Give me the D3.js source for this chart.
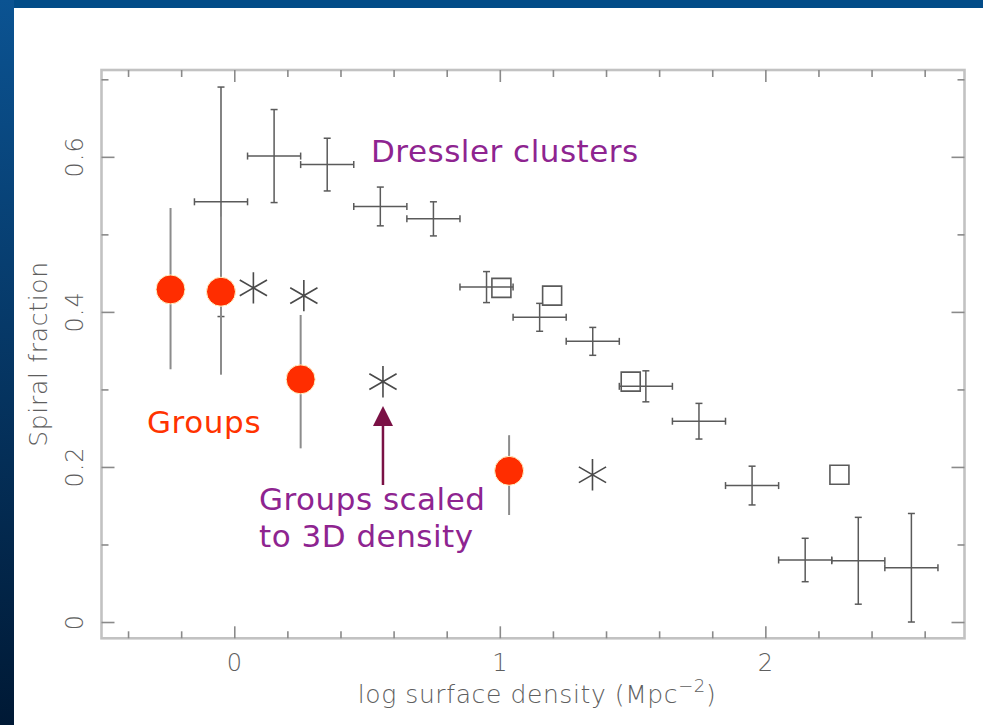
<!DOCTYPE html>
<html>
<head>
<meta charset="utf-8">
<script src="https://cdn.jsdelivr.net/npm/d3@7"></script>
<style>
  html, body { margin: 0; padding: 0; background: #fff; overflow: hidden; }
  svg { display: block; }
</style>
</head>
<body>
<svg id="chart" width="983" height="725"></svg>
<script>
// Dressler clusters: log surface density bin centres, spiral fraction and its 1-sigma error
const dresslerX   = [-0.05, 0.15, 0.35, 0.55, 0.75, 0.95, 1.15, 1.35, 1.55, 1.75, 1.95, 2.15, 2.35, 2.55];
const dresslerY   = [0.542, 0.601, 0.590, 0.536, 0.520, 0.432, 0.393, 0.362, 0.304, 0.259, 0.176, 0.080, 0.079, 0.070];
const dresslerErr = [0.148, 0.060, 0.034, 0.025, 0.022, 0.020, 0.018, 0.018, 0.020, 0.023, 0.025, 0.028, 0.056, 0.070];
const dresslerBinHalfWidth = 0.1;

// Groups (filled circles) with asymmetric errors
const groupsX       = [-0.24, -0.05, 0.25, 1.035];
const groupsY       = [0.429, 0.426, 0.313, 0.195];
const groupsErrLow  = [0.103, 0.107, 0.089, 0.057];
const groupsErrHigh = [0.105, 0.097, 0.083, 0.046];

// Groups scaled to 3D density (asterisks)
const scaledX = [0.072, 0.262, 0.56, 1.349];
const scaledY = [0.431, 0.421, 0.31, 0.19];

// Open squares
const squareX = [1.006, 1.197, 1.493, 2.279];
const squareY = [0.431, 0.421, 0.31, 0.19];

// Axis ticks
const xMajorTicks = [0, 1, 2];
const xTickLabels = ['0', '1', '2'];
const yMajorTicks = [0, 0.2, 0.4, 0.6];
const yTickLabels = ['0', '0.2', '0.4', '0.6'];
const xMinorTicks = [-0.4, -0.2, 0.2, 0.4, 0.6, 0.8, 1.2, 1.4, 1.6, 1.8, 2.2, 2.4, 2.6];
const yMinorTicks = [0.1, 0.3, 0.5, 0.7];

const svg = d3.select('#chart');
const defs = svg.append('defs');
const edge = defs.append('linearGradient').attr('id', 'edge')
  .attr('x1', 0).attr('y1', 0).attr('x2', 0).attr('y2', 1);
edge.append('stop').attr('offset', '0%').attr('stop-color', '#0b5392');
edge.append('stop').attr('offset', '100%').attr('stop-color', '#001935');

// slide background and dark blue edges
svg.append('rect').attr('width', 983).attr('height', 725).attr('fill', '#ffffff');
svg.append('rect').attr('x', 0).attr('y', 0).attr('width', 983).attr('height', 8).attr('fill', '#024c88');
svg.append('rect').attr('x', 0).attr('y', 0).attr('width', 14).attr('height', 725).attr('fill', 'url(#edge)');

const x = d3.scaleLinear().domain([-0.5, 2.75]).range([101.5, 964.5]);
const y = d3.scaleLinear().domain([-0.021, 0.712]).range([638.3, 70]);

const axisFont = "'DejaVu Sans', 'Liberation Sans', sans-serif";
const axisInk = '#5e5e5e';

// frame
svg.append('rect')
  .attr('x', x.range()[0]).attr('y', y.range()[1])
  .attr('width', x.range()[1] - x.range()[0])
  .attr('height', y.range()[0] - y.range()[1])
  .attr('fill', 'none').attr('stroke', '#c2c2c2').attr('stroke-width', 2.6);

// inward ticks on all four sides
function ticks(axisFn, scale, values, size, tx, ty) {
  svg.append('g').attr('transform', `translate(${tx},${ty})`)
    .call(axisFn(scale).tickValues(values).tickSize(size).tickSizeOuter(0).tickFormat(''))
    .call(g => g.select('.domain').remove())
    .call(g => g.selectAll('line').attr('stroke', '#8a8a8a').attr('stroke-width', 1.6));
}
ticks(d3.axisBottom, x, xMajorTicks, -12, 0, y.range()[0]);
ticks(d3.axisBottom, x, xMinorTicks, -7, 0, y.range()[0]);
ticks(d3.axisTop, x, xMajorTicks, -12, 0, y.range()[1]);
ticks(d3.axisTop, x, xMinorTicks, -7, 0, y.range()[1]);
ticks(d3.axisLeft, y, yMajorTicks, -13, x.range()[0], 0);
ticks(d3.axisLeft, y, yMinorTicks, -7, x.range()[0], 0);
ticks(d3.axisRight, y, yMajorTicks, -13, x.range()[1], 0);
ticks(d3.axisRight, y, yMinorTicks, -7, x.range()[1], 0);

// tick labels
svg.append('g').selectAll('text').data(xMajorTicks).join('text')
  .attr('x', d => x(d)).attr('y', 671)
  .attr('text-anchor', 'middle')
  .attr('font-family', axisFont).attr('font-weight', 200).attr('font-size', 24)
  .attr('fill', axisInk)
  .text((d, i) => xTickLabels[i]);

svg.append('g').selectAll('text').data(yMajorTicks).join('text')
  .attr('transform', d => `translate(83,${y(d)}) rotate(-90)`)
  .attr('text-anchor', 'middle')
  .attr('font-family', axisFont).attr('font-weight', 200).attr('font-size', 24)
  .attr('letter-spacing', 1)
  .attr('fill', axisInk)
  .text((d, i) => yTickLabels[i]);

// axis titles
svg.append('text')
  .attr('transform', 'translate(47,354) rotate(-90)')
  .attr('text-anchor', 'middle')
  .attr('font-family', axisFont).attr('font-weight', 200).attr('font-size', 25)
  .attr('letter-spacing', 0.7)
  .attr('fill', axisInk)
  .text('Spiral fraction');

const xTitle = svg.append('text')
  .attr('x', 537).attr('y', 703)
  .attr('text-anchor', 'middle')
  .attr('font-family', axisFont).attr('font-weight', 200).attr('font-size', 25)
  .attr('letter-spacing', 0.6)
  .attr('fill', axisInk);
xTitle.append('tspan').text('log surface density (Mpc');
xTitle.append('tspan').attr('dy', -11).attr('font-size', 18).text('\u22122');
xTitle.append('tspan').attr('dy', 11).text(')');

// Dressler cluster crosses
const crossInk = '#5a5a5a';
const cap = 3.5;
const crosses = svg.append('g').attr('stroke', crossInk).attr('stroke-width', 1.5).attr('fill', 'none');
dresslerX.forEach((dx, i) => {
  const cx = x(dx), cy = y(dresslerY[i]);
  const xl = x(dx - dresslerBinHalfWidth), xr = x(dx + dresslerBinHalfWidth);
  const yt = y(dresslerY[i] + dresslerErr[i]), yb = y(dresslerY[i] - dresslerErr[i]);
  const g = crosses.append('g');
  g.append('line').attr('x1', xl).attr('x2', xr).attr('y1', cy).attr('y2', cy);
  g.append('line').attr('x1', cx).attr('x2', cx).attr('y1', yt).attr('y2', yb);
  g.append('line').attr('x1', xl).attr('x2', xl).attr('y1', cy - cap).attr('y2', cy + cap);
  g.append('line').attr('x1', xr).attr('x2', xr).attr('y1', cy - cap).attr('y2', cy + cap);
  g.append('line').attr('x1', cx - cap).attr('x2', cx + cap).attr('y1', yt).attr('y2', yt);
  g.append('line').attr('x1', cx - cap).attr('x2', cx + cap).attr('y1', yb).attr('y2', yb);
});

// open squares
svg.append('g').selectAll('path').data(squareX).join('path')
  .attr('transform', (d, i) => `translate(${x(d)},${y(squareY[i])})`)
  .attr('d', d3.symbol(d3.symbolSquare, 19 * 19))
  .attr('fill', 'none').attr('stroke', '#5a5a5a').attr('stroke-width', 1.6);

// asterisks
svg.append('g').selectAll('path').data(scaledX).join('path')
  .attr('transform', (d, i) => `translate(${x(d)},${y(scaledY[i])})`)
  .attr('d', d3.symbol(d3.symbolAsterisk, 700))
  .attr('fill', 'none').attr('stroke', '#4a4a4a').attr('stroke-width', 1.6);

// group error bars
svg.append('g').selectAll('line').data(groupsX).join('line')
  .attr('x1', d => x(d)).attr('x2', d => x(d))
  .attr('y1', (d, i) => y(groupsY[i] + groupsErrHigh[i]))
  .attr('y2', (d, i) => y(groupsY[i] - groupsErrLow[i]))
  .attr('stroke', '#8c8c8c').attr('stroke-width', 2);

// group points
svg.append('g').selectAll('circle').data(groupsX).join('circle')
  .attr('cx', d => x(d)).attr('cy', (d, i) => y(groupsY[i]))
  .attr('r', 14.5)
  .attr('fill', '#ff2d00').attr('stroke', '#fff6c8').attr('stroke-width', 1);

// annotations
const noteFont = "'DejaVu Sans', Verdana, sans-serif";
const purple = '#8e2490';
svg.append('text').attr('x', 371).attr('y', 162)
  .attr('font-family', noteFont).attr('font-size', 31).attr('letter-spacing', 0.5).attr('fill', purple)
  .text('Dressler clusters');
svg.append('text').attr('x', 147).attr('y', 433)
  .attr('font-family', noteFont).attr('font-size', 31).attr('letter-spacing', 0.6).attr('fill', '#ff3300')
  .text('Groups');
const scaledNote = svg.append('text')
  .attr('font-family', noteFont).attr('font-size', 31).attr('letter-spacing', 0.5).attr('fill', purple);
scaledNote.append('tspan').attr('x', 259).attr('y', 510).text('Groups scaled');
scaledNote.append('tspan').attr('x', 259).attr('y', 547).text('to 3D density');

// arrow pointing at the scaled-group asterisk
const arrowInk = '#7a1145';
const ax = x(scaledX[2]);
svg.append('line').attr('x1', ax).attr('x2', ax).attr('y1', 485).attr('y2', 422)
  .attr('stroke', arrowInk).attr('stroke-width', 2.5);
svg.append('path')
  .attr('d', `M${ax},406 L${ax - 10},426 L${ax + 10},426 Z`)
  .attr('fill', arrowInk);
</script>
</body>
</html>
